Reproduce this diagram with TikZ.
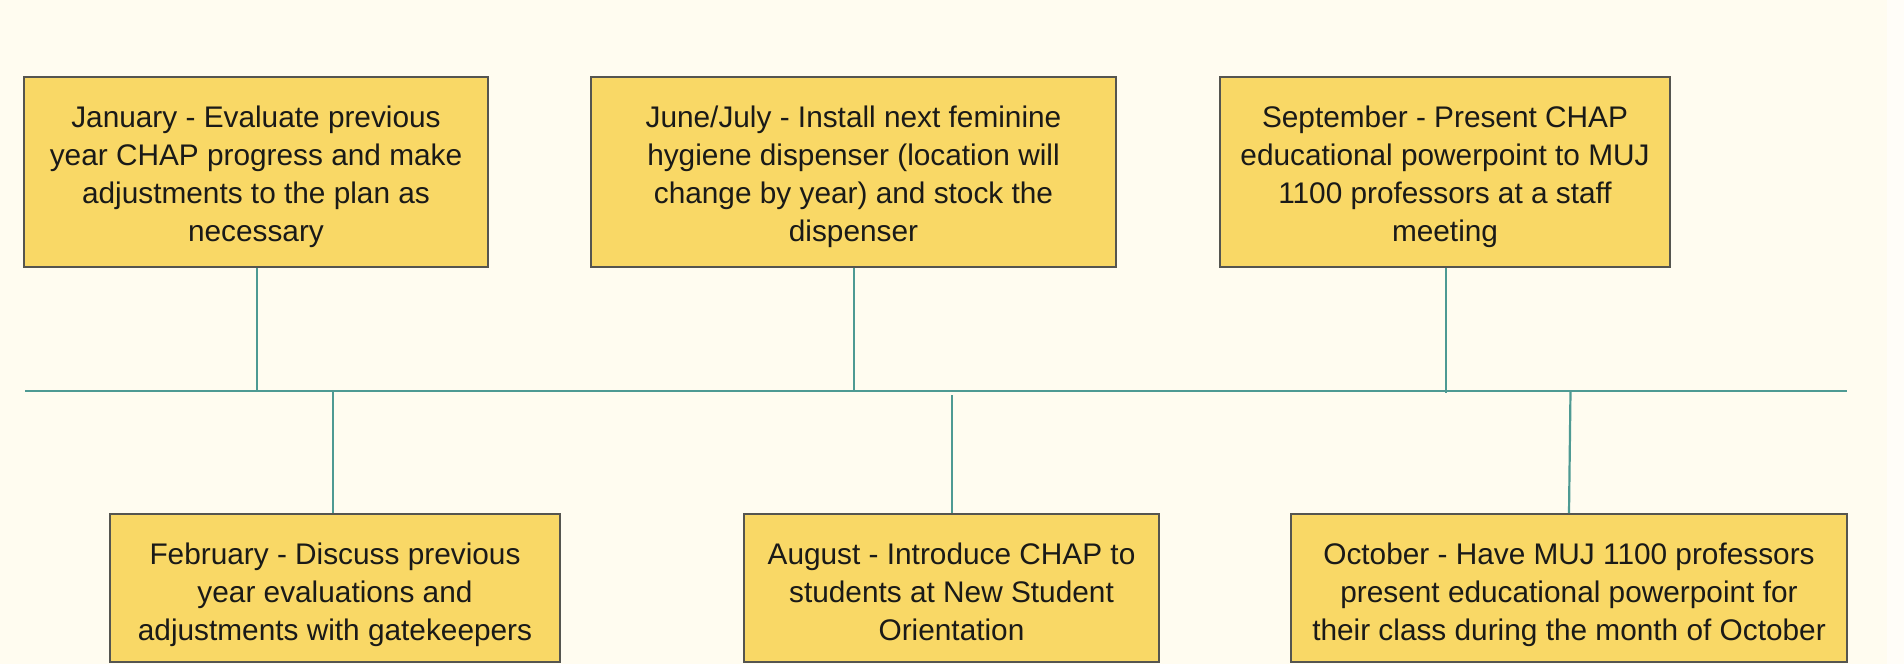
\documentclass[tikz,border=0pt]{standalone}
\usepackage{fontspec}
\setmainfont{Liberation Sans}
\definecolor{paper}{HTML}{FFFCF0}
\definecolor{edgepaper}{HTML}{FFFDF8}
\definecolor{boxfill}{HTML}{F9D866}
\definecolor{boxline}{HTML}{555550}
\definecolor{teal}{HTML}{4E9A93}
\definecolor{ink}{HTML}{1A1A18}
\tikzset{
  event/.style={draw=boxline, line width=1.8pt, fill=boxfill, rectangle,
    inner sep=0pt},
  topevent/.style={event, minimum height=190pt},
  lowevent/.style={event, minimum height=148pt},
  caption/.style={inner sep=0pt, align=center, text=ink,
    font=\fontsize{29.8}{38}\selectfont},
  link/.style={draw=teal, line width=2.2pt},
}
\begin{document}
\begin{tikzpicture}[x=1pt,y=-1pt]
  % page and right-hand margin strip
  \fill[paper] (0,0) rectangle (1904,664);
  \fill[edgepaper] (1887,0) rectangle (1904,664);
  \useasboundingbox (0,0) rectangle (1904,664);

  % timeline
  \coordinate (tlstart) at (25,391);
  \coordinate (tlend) at (1847,391);
  \draw[link] (tlstart) -- (tlend);

  % events above the line
  \node[topevent, minimum width=464pt] (jan) at (256,172) {};
  \node[topevent, minimum width=525pt] (jun) at (853.5,172) {};
  \node[topevent, minimum width=450pt] (sep) at (1445,172) {};

  % events below the line
  \node[lowevent, minimum width=450pt] (feb) at (335,588) {};
  \node[lowevent, minimum width=415pt] (aug) at (951.5,588) {};
  \node[lowevent, minimum width=556pt] (oct) at (1569,588) {};

  % event texts
  \node[caption] (jantxt) at ([yshift=-4.5pt]jan.center)
    {January - Evaluate previous\\year CHAP progress and make\\adjustments to the plan as\\necessary};
  \node[caption] (juntxt) at ([yshift=-4.5pt]jun.center)
    {June/July - Install next feminine\\hygiene dispenser (location will\\change by year) and stock the\\dispenser};
  \node[caption] (septxt) at ([yshift=-4.5pt]sep.center)
    {September - Present CHAP\\educational powerpoint to MUJ\\1100 professors at a staff\\meeting};
  \node[caption] (febtxt) at ([yshift=-6.5pt]feb.center)
    {February - Discuss previous\\year evaluations and\\adjustments with gatekeepers};
  \node[caption] (augtxt) at ([yshift=-6.5pt]aug.center)
    {August - Introduce CHAP to\\students at New Student\\Orientation\vphantom{g}};
  \node[caption] (octtxt) at ([yshift=-6.5pt]oct.center)
    {October - Have MUJ 1100 professors\\present educational powerpoint for\\their class during the month of October};

  % ticks where the connectors meet the timeline
  \coordinate (tjan) at (257,391);
  \coordinate (tjun) at (854,391);
  \coordinate (tsep) at (1446,393);
  \coordinate (tfeb) at (333,391);
  \coordinate (taug) at (952,395);
  \coordinate (toct) at (1570.5,391);

  % connectors
  \draw[link] (jan.south -| tjan) -- (tjan);
  \draw[link] (jun.south -| tjun) -- (tjun);
  \draw[link] (sep.south -| tsep) -- (tsep);
  \draw[link] (tfeb) -- (tfeb |- feb.north);
  \draw[link] (taug) -- (taug |- aug.north);
  \draw[link] (toct) -- (oct.north);
\end{tikzpicture}
\end{document}
